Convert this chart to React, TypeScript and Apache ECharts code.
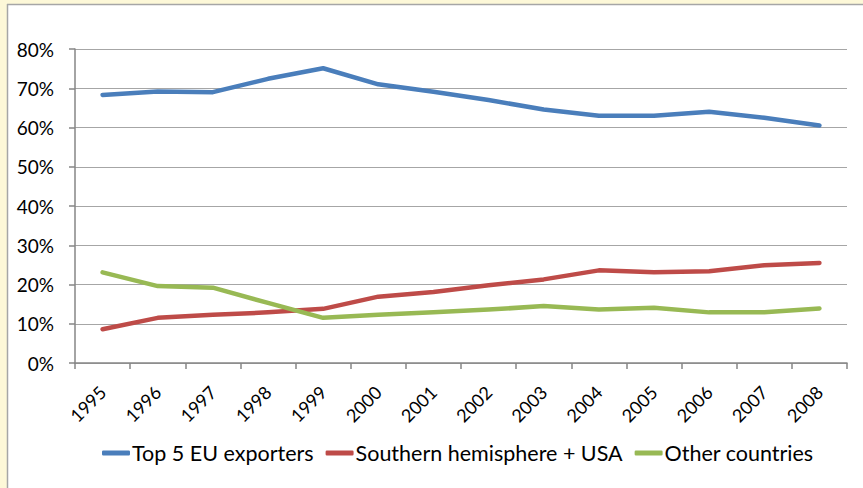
import React, { useEffect, useRef } from "react";
import * as echarts from "echarts";

const years = ["1995", "1996", "1997", "1998", "1999", "2000", "2001", "2002", "2003", "2004", "2005", "2006", "2007", "2008"];
const top5EU = [68.3, 69.2, 69.0, 72.4, 75.1, 71.0, 69.1, 67.0, 64.6, 63.0, 63.0, 64.0, 62.5, 60.5];
const southern = [8.6, 11.5, 12.3, 12.9, 13.8, 16.9, 18.1, 19.8, 21.3, 23.6, 23.1, 23.4, 24.9, 25.5];
const others = [23.1, 19.6, 19.2, 15.3, 11.5, 12.3, 12.9, 13.6, 14.5, 13.6, 14.1, 12.9, 12.9, 13.9];
const seriesNames = ["Top 5 EU exporters", "Southern hemisphere + USA", "Other countries"];
const colors = ["#4A7EBB", "#BE4B48", "#98B954"];

const FONT = "Lato";

export default function App() {
  const ref = useRef<HTMLDivElement>(null);
  useEffect(() => {
    if (!ref.current) return;
    const chart = echarts.init(ref.current, null, { renderer: "svg" });
    const data = [top5EU, southern, others];
    chart.setOption({
      animation: false,
      backgroundColor: "#ffffff",
      color: colors,
      graphic: [
        { type: "rect", shape: { x: 0, y: 0, width: 863, height: 4 }, style: { fill: "#FDF8D8" }, silent: true },
        { type: "rect", shape: { x: 0, y: 0, width: 7, height: 488 }, style: { fill: "#FDF8D8" }, silent: true },
        { type: "line", shape: { x1: 7, y1: 4.5, x2: 863, y2: 4.5 }, style: { stroke: "#A6A6A6", lineWidth: 1.5 }, silent: true },
        { type: "line", shape: { x1: 7.5, y1: 4, x2: 7.5, y2: 488 }, style: { stroke: "#A6A6A6", lineWidth: 1.5 }, silent: true },
      ],
      grid: { left: 75, right: 16, top: 49, bottom: 125, containLabel: false },
      legend: {
        bottom: 19,
        left: 97,
        itemWidth: 28,
        itemHeight: 5,
        itemGap: 12,
        icon: "roundRect",
        data: seriesNames,
        textStyle: { fontFamily: FONT, fontSize: 21.5, color: "#000", padding: [0, 0, 0, -3] },
      },
      xAxis: {
        type: "category",
        data: years,
        boundaryGap: true,
        axisLine: { lineStyle: { color: "#868686", width: 1.5 } },
        axisTick: { show: true, alignWithLabel: false, length: 6, lineStyle: { color: "#868686", width: 1.5 } },
        axisLabel: { rotate: 45, margin: 26, fontFamily: FONT, fontSize: 18, color: "#000" },
      },
      yAxis: {
        type: "value",
        min: 0,
        max: 80,
        interval: 10,
        axisLine: { show: true, lineStyle: { color: "#868686", width: 1.5 } },
        axisTick: { show: true, length: 6, lineStyle: { color: "#868686", width: 1.5 } },
        splitLine: { lineStyle: { color: "#A6A6A6", width: 1.2 } },
        axisLabel: { formatter: "{value}%", margin: 21, fontFamily: FONT, fontSize: 19, color: "#000" },
      },
      series: data.map((d, i) => ({
        name: seriesNames[i],
        type: "line",
        data: d,
        showSymbol: false,
        symbol: "none",
        lineStyle: { width: 4.5, color: colors[i], cap: "round", join: "round" },
        itemStyle: { color: colors[i] },
      })),
    });
    return () => chart.dispose();
  }, []);
  return <div ref={ref} style={{ position: "absolute", left: 0, top: 0, width: 863, height: 488 }} />;
}
